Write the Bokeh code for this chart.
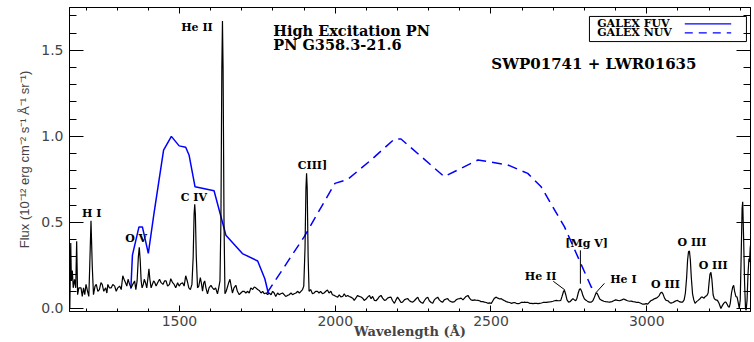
from bokeh.plotting import figure
from bokeh.models import Range1d, LinearAxis, FixedTicker, ColumnDataSource
from bokeh.core.properties import value
from bokeh.embed import file_html
from bokeh.resources import INLINE

# ---------------- data ----------------
spec_wave = [1148, 1151, 1153, 1156, 1159, 1163, 1167, 1170, 1173, 1177, 1184, 1188, 1192, 1196, 1200,
             1205, 1209, 1212, 1216, 1220, 1224, 1229, 1233, 1238, 1243, 1248, 1252, 1257, 1263, 1267,
             1270, 1275, 1281, 1286, 1292, 1297, 1302, 1308, 1313, 1318, 1322, 1327, 1331, 1335, 1340,
             1345, 1350, 1356, 1360, 1364, 1368, 1371, 1374, 1377, 1380, 1384, 1387, 1391, 1395, 1399,
             1402, 1405, 1409, 1413, 1417, 1421, 1425, 1430, 1436, 1441, 1447, 1452, 1457, 1462, 1468,
             1472, 1478, 1483, 1488, 1494, 1499, 1504, 1510, 1515, 1520, 1525, 1530, 1535, 1540, 1544,
             1547, 1549, 1551, 1554, 1558, 1562, 1567, 1571, 1574, 1578, 1581, 1585, 1590, 1595, 1601,
             1606, 1611, 1616, 1622, 1626, 1630, 1633, 1636, 1638, 1640, 1643, 1646, 1650, 1654, 1658,
             1662, 1666, 1670, 1675, 1681, 1686, 1692, 1697, 1703, 1708, 1713, 1719, 1724, 1729, 1735,
             1740, 1745, 1751, 1756, 1762, 1767, 1772, 1778, 1783, 1788, 1794, 1799, 1804, 1809, 1815,
             1820, 1825, 1831, 1836, 1841, 1847, 1852, 1858, 1863, 1868, 1874, 1879, 1885, 1890, 1895,
             1899, 1903, 1906, 1908, 1910, 1913, 1916, 1921, 1927, 1932, 1937, 1943, 1948, 1953, 1959,
             1964, 1970, 1975, 1980, 1986, 1991, 1997, 2003, 2008, 2013, 2018, 2024, 2029, 2034, 2040,
             2045, 2050, 2056, 2061, 2066, 2072, 2077, 2083, 2088, 2093, 2099, 2104, 2110, 2115, 2120,
             2126, 2131, 2136, 2142, 2147, 2152, 2158, 2163, 2168, 2174, 2179, 2184, 2190, 2195, 2200,
             2206, 2211, 2216, 2222, 2227, 2233, 2238, 2243, 2249, 2254, 2259, 2265, 2270, 2276, 2281,
             2286, 2292, 2297, 2302, 2308, 2313, 2318, 2324, 2329, 2334, 2340, 2345, 2350, 2356, 2361,
             2366, 2372, 2377, 2383, 2388, 2393, 2399, 2404, 2410, 2415, 2420, 2426, 2431, 2436, 2442,
             2447, 2452, 2458, 2463, 2468, 2474, 2479, 2485, 2490, 2495, 2501, 2506, 2511, 2517, 2522,
             2528, 2533, 2538, 2544, 2549, 2554, 2560, 2565, 2570, 2576, 2581, 2587, 2592, 2597, 2603,
             2608, 2613, 2619, 2624, 2630, 2635, 2640, 2646, 2651, 2656, 2662, 2667, 2672, 2678, 2683,
             2688, 2694, 2699, 2704, 2710, 2715, 2720, 2724, 2728, 2733, 2736, 2740, 2744, 2749, 2754,
             2758, 2763, 2768, 2772, 2776, 2780, 2784, 2787, 2791, 2795, 2800, 2806, 2811, 2816, 2822,
             2827, 2832, 2836, 2840, 2844, 2849, 2856, 2862, 2868, 2875, 2881, 2888, 2894, 2900, 2907,
             2913, 2920, 2926, 2932, 2938, 2944, 2950, 2956, 2962, 2968, 2975, 2981, 2987, 2993, 2998,
             3003, 3008, 3013, 3019, 3024, 3030, 3035, 3040, 3044, 3048, 3052, 3057, 3062, 3068, 3073,
             3078, 3084, 3089, 3094, 3099, 3104, 3110, 3115, 3120, 3124, 3128, 3131, 3134, 3137, 3140,
             3143, 3147, 3151, 3155, 3160, 3165, 3170, 3175, 3179, 3184, 3188, 3193, 3197, 3200, 3203,
             3206, 3209, 3213, 3217, 3222, 3227, 3232, 3236, 3238, 3242, 3247, 3251, 3254, 3258, 3262,
             3265, 3268, 3272, 3276, 3279, 3282, 3286, 3290, 3293, 3297, 3300, 3303, 3306, 3308, 3311,
             3314, 3317, 3319, 3322, 3325, 3328, 3330, 3332, 3335]
spec_flux = [0.00, 0.38, 0.16, 0.22, 0.12, 0.17, 0.12, 0.39, 0.08, 0.12, 0.12, 0.07, 0.12, 0.08, 0.14,
             0.10, 0.07, 0.25, 0.51, 0.25, 0.08, 0.13, 0.14, 0.10, 0.11, 0.15, 0.14, 0.10, 0.12, 0.09,
             0.14, 0.12, 0.12, 0.14, 0.13, 0.10, 0.12, 0.13, 0.11, 0.19, 0.17, 0.15, 0.13, 0.17, 0.14,
             0.12, 0.14, 0.16, 0.11, 0.16, 0.30, 0.355, 0.28, 0.16, 0.12, 0.14, 0.17, 0.15, 0.12, 0.18,
             0.23, 0.17, 0.12, 0.14, 0.16, 0.15, 0.13, 0.15, 0.17, 0.15, 0.14, 0.16, 0.16, 0.13, 0.14,
             0.173, 0.15, 0.14, 0.12, 0.15, 0.13, 0.144, 0.15, 0.13, 0.19, 0.16, 0.12, 0.11, 0.14, 0.30,
             0.55, 0.606, 0.55, 0.30, 0.12, 0.13, 0.18, 0.14, 0.10, 0.15, 0.16, 0.12, 0.085, 0.12, 0.135,
             0.12, 0.11, 0.12, 0.085, 0.12, 0.16, 0.50, 1.40, 1.67, 1.40, 0.50, 0.085, 0.10, 0.125, 0.15,
             0.17, 0.13, 0.09, 0.12, 0.135, 0.10, 0.08, 0.09, 0.10, 0.10, 0.09, 0.10, 0.09, 0.12, 0.11,
             0.125, 0.12, 0.11, 0.105, 0.09, 0.10, 0.086, 0.09, 0.08, 0.09, 0.08, 0.10, 0.09, 0.07, 0.09,
             0.08, 0.086, 0.09, 0.08, 0.07, 0.076, 0.08, 0.09, 0.08, 0.086, 0.09, 0.10, 0.09, 0.10, 0.11,
             0.13, 0.35, 0.70, 0.785, 0.70, 0.30, 0.10, 0.11, 0.086, 0.09, 0.10, 0.10, 0.09, 0.10, 0.086,
             0.09, 0.10, 0.107, 0.09, 0.10, 0.08, 0.076, 0.07, 0.066, 0.08, 0.067, 0.07, 0.086, 0.07, 0.076,
             0.07, 0.066, 0.06, 0.047, 0.06, 0.076, 0.07, 0.067, 0.06, 0.047, 0.055, 0.066, 0.076, 0.057, 0.07,
             0.047, 0.045, 0.055, 0.07, 0.076, 0.06, 0.047, 0.05, 0.06, 0.065, 0.066, 0.045, 0.03, 0.05, 0.066,
             0.05, 0.035, 0.037, 0.05, 0.055, 0.057, 0.045, 0.04, 0.037, 0.045, 0.055, 0.066, 0.045, 0.035, 0.03,
             0.045, 0.06, 0.066, 0.045, 0.035, 0.03, 0.05, 0.06, 0.066, 0.05, 0.04, 0.037, 0.05, 0.055, 0.057,
             0.045, 0.04, 0.037, 0.04, 0.05, 0.055, 0.057, 0.06, 0.05, 0.06, 0.07, 0.076, 0.06, 0.05, 0.047,
             0.05, 0.048, 0.047, 0.045, 0.04, 0.04, 0.037, 0.035, 0.03, 0.033, 0.03, 0.045, 0.06, 0.066, 0.06,
             0.055, 0.057, 0.05, 0.045, 0.04, 0.037, 0.035, 0.03, 0.033, 0.035, 0.03, 0.028, 0.03, 0.035, 0.035,
             0.037, 0.035, 0.035, 0.03, 0.03, 0.028, 0.03, 0.03, 0.028, 0.03, 0.032, 0.035, 0.035, 0.036, 0.037,
             0.038, 0.04, 0.042, 0.045, 0.047, 0.045, 0.045, 0.047, 0.07, 0.10, 0.105, 0.08, 0.05, 0.037, 0.04,
             0.048, 0.057, 0.05, 0.045, 0.06, 0.09, 0.112, 0.115, 0.10, 0.075, 0.055, 0.047, 0.04, 0.037, 0.037,
             0.045, 0.065, 0.085, 0.09, 0.075, 0.055, 0.047, 0.042, 0.04, 0.038, 0.037, 0.04, 0.045, 0.05, 0.047,
             0.045, 0.05, 0.055, 0.05, 0.045, 0.042, 0.043, 0.04, 0.038, 0.035, 0.035, 0.03, 0.025, 0.025, 0.028,
             0.025, 0.035, 0.045, 0.05, 0.056, 0.06, 0.066, 0.075, 0.09, 0.095, 0.085, 0.06, 0.047, 0.045, 0.035,
             0.031, 0.035, 0.04, 0.045, 0.047, 0.04, 0.037, 0.037, 0.05, 0.09, 0.18, 0.28, 0.33, 0.334, 0.28,
             0.18, 0.085, 0.05, 0.03, 0.04, 0.047, 0.055, 0.066, 0.066, 0.06, 0.07, 0.076, 0.09, 0.15, 0.20,
             0.21, 0.17, 0.08, 0.056, 0.05, 0.047, 0.03, 0.01, 0.0, 0.015, 0.03, 0.037, 0.037, 0.025, 0.01,
             0.008, 0.03, 0.09, 0.125, 0.134, 0.10, 0.07, 0.066, 0.04, 0.0, 0.05, 0.30, 0.58, 0.62, 0.40,
             0.15, 0.0, -0.01, 0.05, 0.20, 0.29, 0.27, 0.35, 0.40]

fuv_wave = [1344, 1349, 1370, 1381, 1400, 1418, 1449, 1474, 1499, 1520, 1531, 1550, 1611, 1649,
            1702, 1751, 1774, 1785]
fuv_flux = [0.115, 0.31, 0.474, 0.474, 0.32, 0.55, 0.92, 1.0, 0.945, 0.937, 0.89, 0.707, 0.684,
            0.426, 0.319, 0.276, 0.173, 0.09]

nuv_wave = [1781, 1900, 1999, 2040, 2115, 2190, 2211, 2350, 2458, 2554, 2618, 2661, 2736, 2822, 2840]
nuv_flux = [0.09, 0.416, 0.727, 0.75, 0.863, 0.985, 0.985, 0.766, 0.863, 0.834, 0.785, 0.707, 0.474,
            0.124, 0.10]

line_names = ["H I", "O V", "C IV", "He II", "CIII]", "He II", "[Mg V]", "He I", "O III", "O III", "O III"]
line_label_wave = [1218, 1361, 1546, 1556, 1927, 2659, 2807, 2925, 3060, 3145, 3213]
line_label_flux = [0.55, 0.406, 0.645, 1.63, 0.83, 0.183, 0.38, 0.17, 0.14, 0.383, 0.25]

x_ticks = [1500, 2000, 2500, 3000]
x_minor = list(range(1200, 3400, 100))
y_ticks = [0.0, 0.5, 1.0, 1.5]
y_minor = [round(0.1 * i, 1) for i in range(0, 18)]

# ---------------- figure ----------------
p = figure(width=754, height=342, output_backend="svg", toolbar_location=None,
           x_range=Range1d(1147, 3333), y_range=Range1d(-0.0175, 1.749),
           min_border_left=69, min_border_right=4, min_border_top=7, min_border_bottom=31)
p.grid.visible = False
p.outline_line_color = "black"
p.outline_line_width = 1
p.background_fill_color = "white"
p.border_fill_color = "white"

xt = FixedTicker(ticks=x_ticks, minor_ticks=x_minor)
yt = FixedTicker(ticks=y_ticks, minor_ticks=y_minor)

xa = p.xaxis[0]
xa.ticker = xt
xa.major_tick_in = 6
xa.major_tick_out = 0
xa.minor_tick_in = 3
xa.minor_tick_out = 0
xa.axis_label = "Wavelength (Å)"
xa.axis_label_text_font = "DejaVu Serif"
xa.axis_label_text_font_style = "bold"
xa.axis_label_text_font_size = "13px"
xa.axis_label_standoff = -5
xa.major_label_text_font = "DejaVu Sans"
xa.major_label_text_font_size = "14px"
xa.major_label_standoff = 4

ya = p.yaxis[0]
ya.ticker = yt
ya.major_tick_in = 14
ya.major_tick_out = 0
ya.minor_tick_in = 7
ya.minor_tick_out = 0
ya.major_label_overrides = {0.0: "0.0", 0.5: "0.5", 1.0: "1.0", 1.5: "1.5"}
ya.axis_label = "Flux (10⁻¹² erg cm⁻² s⁻¹ Å⁻¹ sr⁻¹)"
ya.axis_label_text_font = "Liberation Sans"
ya.axis_label_text_font_style = "normal"
ya.axis_label_text_font_size = "13px"
ya.axis_label_standoff = 6
ya.major_label_text_font = "DejaVu Sans"
ya.major_label_text_font_size = "14px"
ya.major_label_standoff = 6

for loc, tk, mi, mn, tv in (("above", xt, 6, 3, x_ticks), ("right", yt, 14, 7, y_ticks)):
    ax = LinearAxis(ticker=tk, major_tick_in=mi, major_tick_out=0, minor_tick_in=mn,
                    minor_tick_out=0, major_label_standoff=0,
                    major_label_overrides={t: "" for t in tv})
    p.add_layout(ax, loc)

# GALEX curves
p.line(fuv_wave, fuv_flux, line_color="#0000ff", line_width=1.5)
p.line(nuv_wave, nuv_flux, line_color="#0000ff", line_width=1.5, line_dash="10 6")

# IUE spectrum
p.line(spec_wave, spec_flux, line_color="black", line_width=1.2)

# line identifications
lab = ColumnDataSource(dict(x=line_label_wave, y=line_label_flux, t=line_names))
p.text(x="x", y="y", text="t", source=lab, text_font=value("DejaVu Serif"), text_font_style="bold",
       text_font_size="11px", text_align="center", text_baseline="middle", text_color="black")
p.segment(x0=[2700, 2787, 2864], y0=[0.158, 0.338, 0.146], x1=[2737, 2787, 2836], y1=[0.108, 0.144, 0.09],
          line_color="black", line_width=1)

# titles
p.text(x=[1801, 1801], y=[1.617, 1.534], text=["High Excitation PN", "PN G358.3-21.6"],
       text_font=value("DejaVu Serif"), text_font_style="bold", text_font_size="14.5px",
       text_align="left", text_baseline="middle", text_color="black")
p.text(x=[2501], y=[1.421], text=["SWP01741 + LWR01635"], text_font=value("DejaVu Serif"),
       text_font_style="bold", text_font_size="15px", text_align="left", text_baseline="middle",
       text_color="black")

# legend box
p.quad(left=[2816], right=[3320], bottom=[1.551], top=[1.697], fill_color="white",
       line_color="black", line_width=1)
p.text(x=[2841, 2841], y=[1.654, 1.602], text=["GALEX FUV", "GALEX NUV"], text_font=value("DejaVu Serif"),
       text_font_style="bold", text_font_size="11px", text_align="left", text_baseline="middle",
       text_color="black")
p.line([3122, 3271], [1.654, 1.654], line_color="#0000ff", line_width=1.2)
p.line([3122, 3271], [1.602, 1.602], line_color="#0000ff", line_width=1.2, line_dash="8 6")

open("out.html", "w").write(file_html(p, INLINE))
